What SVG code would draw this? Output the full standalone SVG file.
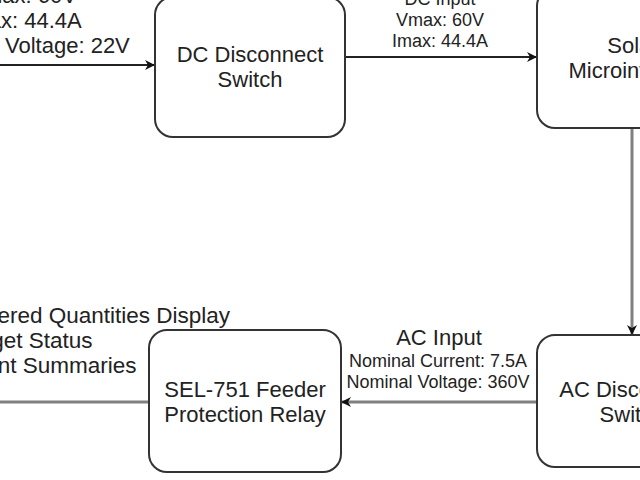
<svg xmlns="http://www.w3.org/2000/svg" width="640" height="480" viewBox="0 0 640 480">
<defs>
<style>
.box{fill:#fff;stroke:#333;stroke-width:2}
.t{font-family:"Liberation Sans",Arial,sans-serif;fill:#222}
.big{font-size:22px}
.small{font-size:18px}
.mid{text-anchor:middle}
.dark{stroke:#222;stroke-width:1.8;fill:none}
.gray{stroke:#808080;stroke-width:3;fill:none}
</style>
<marker id="arr" markerWidth="12" markerHeight="10" refX="10" refY="5" orient="auto" markerUnits="userSpaceOnUse">
<path d="M0,0 L10,5 L0,10 L3,5 Z" fill="#111"/>
</marker>
</defs>
<rect width="640" height="480" fill="#fff"/>
<g id="connectors">
<line class="dark" x1="-10" y1="65" x2="155" y2="65" marker-end="url(#arr)"/>
<line class="dark" x1="345" y1="57" x2="537" y2="57" marker-end="url(#arr)"/>
<line class="gray" x1="632" y1="128" x2="632" y2="335" marker-end="url(#arr)"/>
<line class="gray" x1="537" y1="402" x2="341" y2="402" marker-end="url(#arr)"/>
<line class="gray" x1="149" y1="402" x2="-10" y2="402"/>
</g>
<g id="label-pv">
<text class="t big mid" x="23" y="3">Vmax: 60V</text>
<text class="t big mid" x="23" y="28">Imax: 44.4A</text>
<text class="t big mid" x="24" y="53">Nominal Voltage: 22V</text>
</g>
<g id="label-dc">
<text class="t small mid" x="440" y="5">DC Input</text>
<text class="t small mid" x="440" y="26">Vmax: 60V</text>
<text class="t small mid" x="440" y="47">Imax: 44.4A</text>
</g>
<g id="label-ac">
<text class="t big mid" x="439" y="345">AC Input</text>
<text class="t small mid" x="438" y="367">Nominal Current: 7.5A</text>
<text class="t small mid" x="438" y="388">Nominal Voltage: 360V</text>
</g>
<g id="label-out">
<text class="t" style="font-size:22.5px" x="-40" y="323">Metered Quantities Display</text>
<text class="t" style="font-size:22.5px" x="-40" y="348">Target Status</text>
<text class="t" style="font-size:22.5px" x="-41" y="373">Event Summaries</text>
</g>
<g id="dc-disconnect">
<rect class="box" x="155" y="-3" width="190" height="140" rx="18"/>
<text class="t big mid" x="250" y="62">DC Disconnect</text>
<text class="t big mid" x="250" y="87">Switch</text>
</g>
<g id="microinverter">
<rect class="box" x="537" y="-12" width="190" height="140" rx="18"/>
<text class="t big mid" x="633" y="53">Solar</text>
<text class="t big mid" x="632" y="78">Microinverter</text>
</g>
<g id="ac-disconnect">
<rect class="box" x="537" y="335" width="190" height="132" rx="18"/>
<text class="t big mid" x="632" y="397">AC Disconnect</text>
<text class="t big mid" x="632" y="422">Switch</text>
</g>
<g id="sel-751">
<rect class="box" x="149" y="330" width="192" height="142" rx="18"/>
<text class="t big mid" x="245" y="397">SEL-751 Feeder</text>
<text class="t big mid" x="245" y="422">Protection Relay</text>
</g>
</svg>
